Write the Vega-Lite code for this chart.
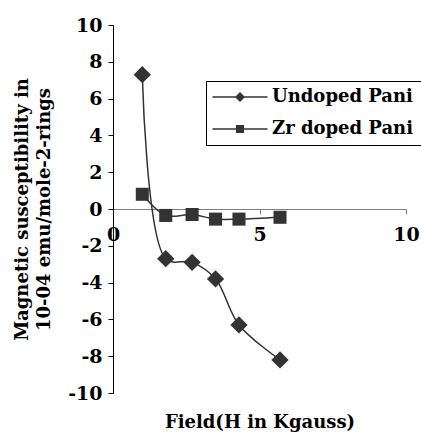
{
  "$schema": "https://vega.github.io/schema/vega-lite/v6.json",
  "width": 293,
  "height": 368,
  "autosize": "none",
  "padding": {"left": 113, "top": 25, "right": 15, "bottom": 45},
  "background": "white",
  "config": {
    "view": {"stroke": null},
    "font": "DejaVu Serif",
    "axis": {"grid": false, "labelFont": "DejaVu Serif", "labelFontWeight": "bold", "labelFontSize": 19, "labelColor": "black", "titleFont": "DejaVu Serif", "titleFontWeight": "bold", "titleFontSize": 18, "titleColor": "black"}
  },
  "data": {
    "values": [
      {"field": 1.0, "chi": 7.3, "series": "Undoped Pani"},
      {"field": 1.8, "chi": -2.7, "series": "Undoped Pani"},
      {"field": 2.7, "chi": -2.9, "series": "Undoped Pani"},
      {"field": 3.5, "chi": -3.8, "series": "Undoped Pani"},
      {"field": 4.3, "chi": -6.3, "series": "Undoped Pani"},
      {"field": 5.7, "chi": -8.2, "series": "Undoped Pani"},
      {"field": 1.0, "chi": 0.8, "series": "Zr doped Pani"},
      {"field": 1.8, "chi": -0.35, "series": "Zr doped Pani"},
      {"field": 2.7, "chi": -0.3, "series": "Zr doped Pani"},
      {"field": 3.5, "chi": -0.55, "series": "Zr doped Pani"},
      {"field": 4.3, "chi": -0.55, "series": "Zr doped Pani"},
      {"field": 5.7, "chi": -0.45, "series": "Zr doped Pani"}
    ]
  },
  "encoding": {
    "x": {
      "field": "field", "type": "quantitative",
      "scale": {"domain": [0, 10], "nice": false, "zero": false},
      "axis": {"values": [0, 5, 10], "offset": -184, "domainColor": "#808080", "tickColor": "#808080", "tickSize": 5, "labelPadding": 11, "labelFlush": false,
        "title": "Field(H in Kgauss)", "titleY": 218, "titleBaseline": "alphabetic",
        "encode": {"labels": {"update": {"stroke": {"value": "black"}, "strokeWidth": {"value": 0.7}}}, "title": {"update": {"stroke": {"value": "black"}, "strokeWidth": {"value": 0.7}}}}}
    },
    "y": {
      "field": "chi", "type": "quantitative",
      "scale": {"domain": [-10, 10], "nice": false},
      "axis": {"values": [-10, -8, -6, -4, -2, 0, 2, 4, 6, 8, 10], "labelExpr": "'' + datum.value", "domainColor": "black", "tickColor": "black", "tickSize": 5, "labelPadding": 6,
        "title": ["Magnetic susceptibility in", "10-04 emu/mole-2-rings"], "titleLineHeight": 22, "titlePadding": 14,
        "encode": {"labels": {"update": {"stroke": {"value": "black"}, "strokeWidth": {"value": 0.7}}}, "title": {"update": {"stroke": {"value": "black"}, "strokeWidth": {"value": 0.7}}}}}
    }
  },
  "layer": [
    {
      "mark": {"type": "line", "interpolate": "catmull-rom", "color": "#333333", "strokeWidth": 1.5},
      "encoding": {"detail": {"field": "series"}}
    },
    {
      "mark": {"type": "point", "filled": true, "color": "#333333", "opacity": 0},
      "encoding": {
        "shape": {
          "field": "series", "type": "nominal",
          "scale": {"domain": ["Undoped Pani", "Zr doped Pani"], "range": ["M-5.5,-0.16H5.5V0.16H-5.5ZM0,-1L1,0L0,1L-1,0Z", "M-5.5,-0.16H5.5V0.16H-5.5ZM-0.8,-0.8H0.8V0.8H-0.8Z"]},
          "legend": {
            "title": null, "orient": "none", "legendX": 93, "legendY": 56,
            "strokeColor": "black", "fillColor": "white", "padding": 7,
            "labelFont": "DejaVu Serif", "labelFontWeight": "bold", "labelFontSize": 18, "labelColor": "black",
            "symbolSize": 100, "symbolOffset": 18, "labelOffset": 23, "rowPadding": 14,
            "symbolOpacity": 1,
            "symbolFillColor": "#333333", "symbolStrokeColor": "#333333", "symbolStrokeWidth": 0,
            "encode": {
              "symbols": {"update": {"opacity": {"value": 1}, "size": {"value": 100}, "fill": {"value": "#333333"}}},
              "labels": {"update": {"stroke": {"value": "black"}, "strokeWidth": {"value": 0.7}}}
            }
          }
        }
      }
    },
    {
      "mark": {"type": "point", "filled": true, "color": "#333333", "opacity": 1,
        "shape": {"expr": "datum.series == 'Undoped Pani' ? 'diamond' : 'square'"},
        "size": {"expr": "datum.series == 'Undoped Pani' ? 300 : 170"}}
    }
  ]
}
